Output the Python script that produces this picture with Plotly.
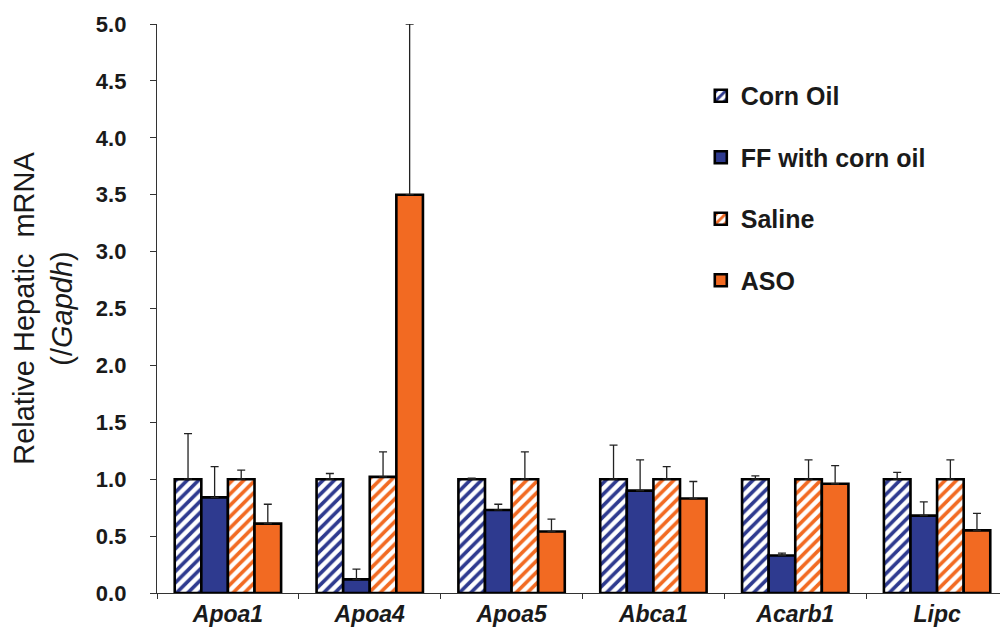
import plotly.graph_objects as go

genes = ["Apoa1", "Apoa4", "Apoa5", "Abca1", "Acarb1", "Lipc"]
series_names = ["Corn Oil", "FF with corn oil", "Saline", "ASO"]

corn_oil = [1.0, 1.0, 1.0, 1.0, 1.0, 1.0]
corn_oil_err = [0.40, 0.05, 0.01, 0.30, 0.03, 0.06]
ff_corn_oil = [0.84, 0.12, 0.73, 0.90, 0.33, 0.68]
ff_corn_oil_err = [0.27, 0.09, 0.05, 0.27, 0.02, 0.12]
saline = [1.0, 1.02, 1.0, 1.0, 1.0, 1.0]
saline_err = [0.08, 0.22, 0.24, 0.11, 0.17, 0.17]
aso = [0.61, 3.5, 0.54, 0.83, 0.96, 0.55]
aso_err = [0.17, 1.5, 0.11, 0.15, 0.16, 0.15]

y_ticks = [0.0, 0.5, 1.0, 1.5, 2.0, 2.5, 3.0, 3.5, 4.0, 4.5, 5.0]

BLUE = "#2E3A8F"
ORANGE = "#F26A22"
FONT = "Arial, Liberation Sans, sans-serif"
TXT = "#1a1a1a"

values = [corn_oil, ff_corn_oil, saline, aso]
errors = [corn_oil_err, ff_corn_oil_err, saline_err, aso_err]
colors = [BLUE, BLUE, ORANGE, ORANGE]
hatched = [True, False, True, False]

fig = go.Figure()
for i, name in enumerate(series_names):
    if hatched[i]:
        marker = dict(color="white",
                      pattern=dict(shape="/", fgcolor=colors[i], bgcolor="white",
                                   size=8, solidity=0.45, fgopacity=1,
                                   fillmode="overlay"),
                      line=dict(color="black", width=2.6))
    else:
        marker = dict(color=colors[i], line=dict(color="black", width=2.6))
    fig.add_trace(go.Bar(
        name=name, x=genes, y=values[i],
        marker=marker,
        legendgroup=f"g{i}",
        error_y=dict(type="data", array=errors[i], arrayminus=[0] * len(genes),
                     symmetric=False, color="#222222", thickness=1.3, width=4),
    ))

fig.update_layout(
    width=1000, height=630,
    paper_bgcolor="white", plot_bgcolor="white",
    margin=dict(l=149, r=0, t=16, b=45),
    barmode="group", bargap=0.25, bargroupgap=0,
    font=dict(family=FONT, color=TXT),
    showlegend=True,
    legend=dict(x=0.639, y=0.914, xanchor="left", yanchor="top",
                font=dict(family=FONT, size=25, color=TXT, weight="bold"),
                tracegroupgap=26, itemwidth=30, bgcolor="rgba(0,0,0,0)"),
)
fig.update_yaxes(
    range=[0, 5.0], tickvals=y_ticks, tickformat=".1f",
    ticks="outside", ticklen=6, tickcolor="#333", tickwidth=1.3,
    showline=True, linecolor="#333", linewidth=1.4,
    showgrid=False, zeroline=False, automargin=False,
    ticklabelstandoff=19,
    tickfont=dict(family=FONT, size=22, color=TXT, weight="bold"),
    title=dict(text="Relative Hepatic  mRNA<br>(/<i>Gapdh</i>)",
               font=dict(family=FONT, size=29, color=TXT), standoff=15),
)
fig.update_xaxes(
    tickvals=genes, ticktext=[f"<b><i>{g}</i></b>" for g in genes],
    tickson="boundaries", ticks="outside", ticklen=5, tickcolor="#333",
    tickwidth=1.3, automargin=False,
    showline=True, linecolor="#333", linewidth=1.4, showgrid=False,
    tickfont=dict(family=FONT, size=23, color=TXT),
)

fig.write_html("out.html")
